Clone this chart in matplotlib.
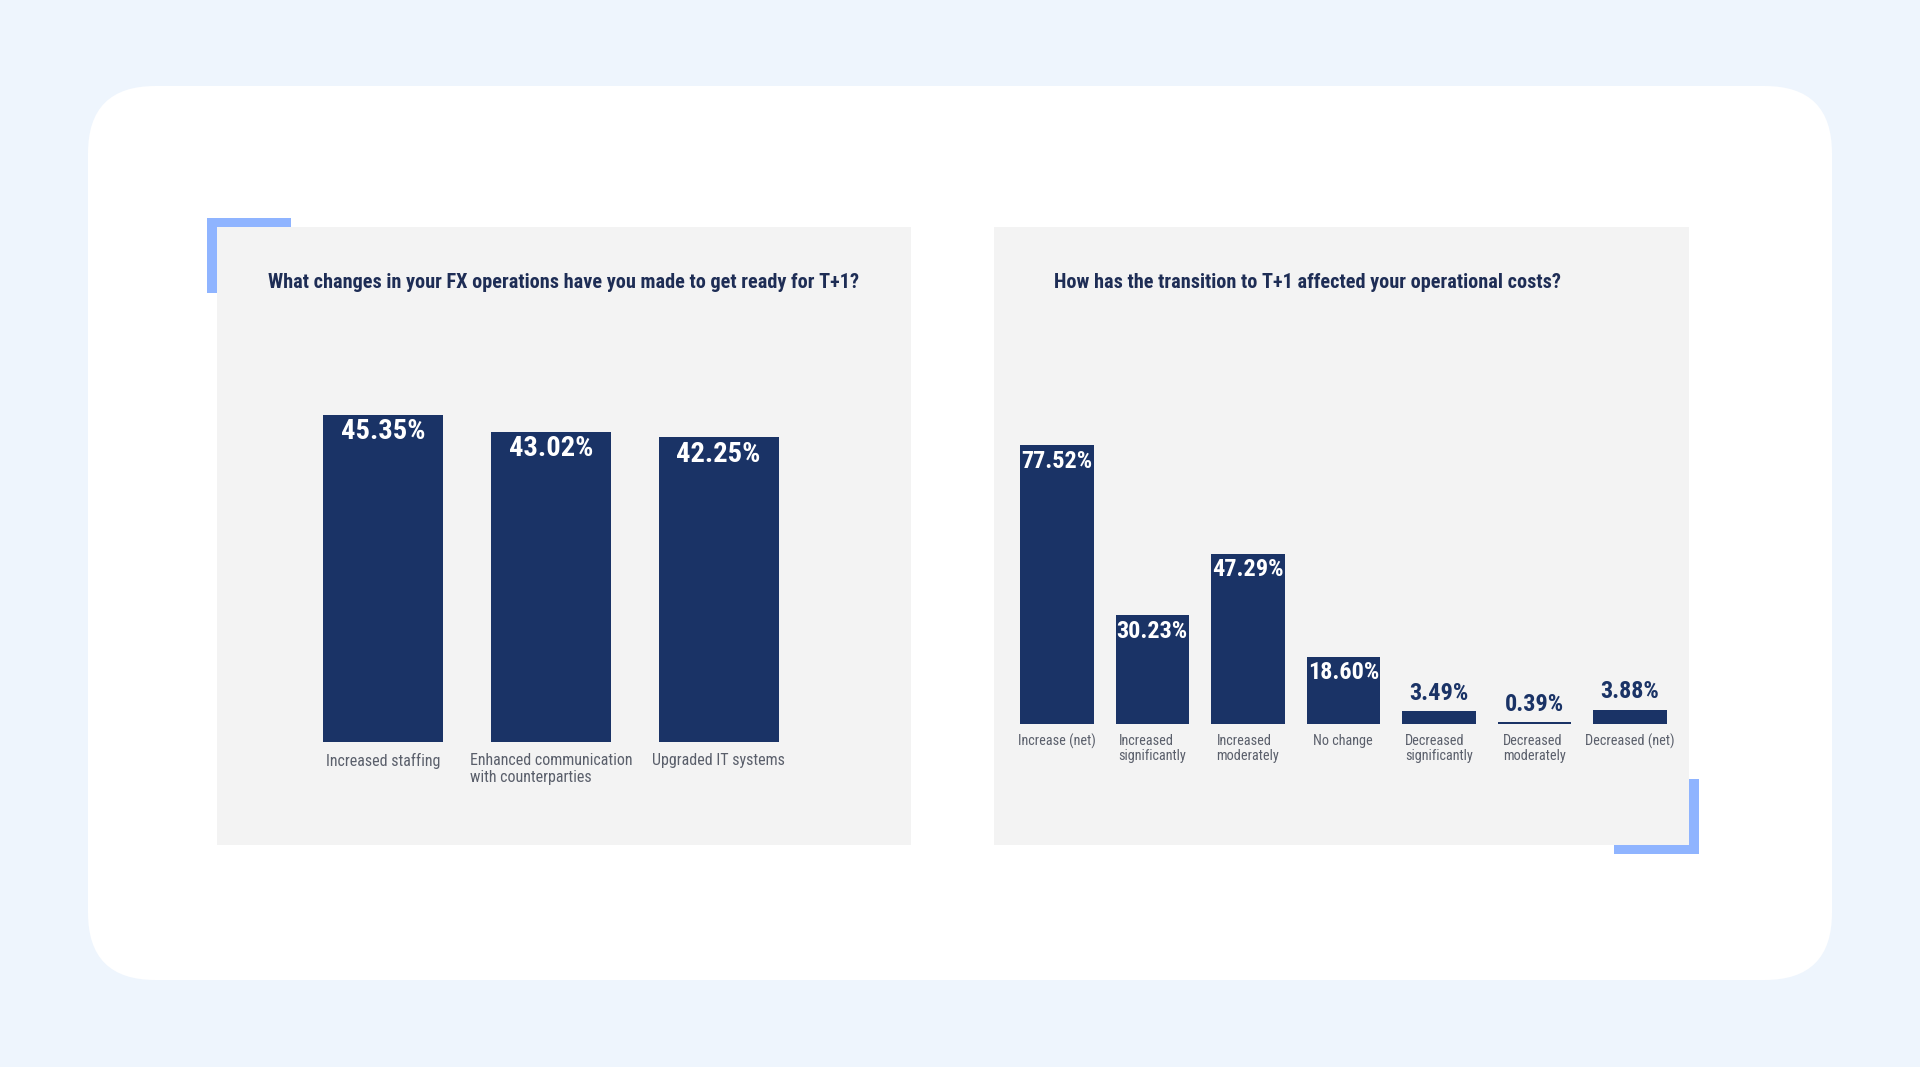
import matplotlib
matplotlib.use("Agg")
import matplotlib.pyplot as plt
from matplotlib.patches import FancyBboxPatch, Rectangle

plt.rcParams['font.family'] = ['Roboto Condensed', 'Liberation Sans Narrow', 'Roboto', 'DejaVu Sans']

# ---------------- data ----------------
left_title = "What changes in your FX operations have you made to get ready for T+1?"
left_categories = ["Increased staffing", "Enhanced communication\nwith counterparties", "Upgraded IT systems"]
left_values = [45.35, 43.02, 42.25]

right_title = "How has the transition to T+1 affected your operational costs?"
right_categories = ["Increase (net)", "Increased\nsignificantly", "Increased\nmoderately", "No change",
                    "Decreased\nsignificantly", "Decreased\nmoderately", "Decreased (net)"]
right_values = [77.52, 30.23, 47.29, 18.60, 3.49, 0.39, 3.88]

# ---------------- style ----------------
W, H = 1920, 1067
BG = "#EEF5FD"
CARD = "#FFFFFF"
PANEL = "#F3F3F3"
NAVY = "#1A3366"
TITLE_C = "#1E2D55"
LABEL_C = "#5A5F6B"
ACCENT = "#8FB4FF"

fig = plt.figure(figsize=(W / 100, H / 100), dpi=100)
fig.patch.set_facecolor(BG)


def fx(px):
    return px / W


def fy(py):
    return 1 - py / H


# white rounded card
card = FancyBboxPatch((fx(88), fy(980)), fx(1832) - fx(88), fy(86) - fy(980),
                      boxstyle="round,pad=0,rounding_size=0.035", transform=fig.transFigure,
                      facecolor=CARD, edgecolor="none", zorder=0,
                      mutation_aspect=W / H)
fig.patches.append(card)

# accent brackets
def frect(x0, y0, x1, y1, color):
    fig.patches.append(Rectangle((fx(x0), fy(y1)), fx(x1) - fx(x0), fy(y0) - fy(y1),
                                 transform=fig.transFigure, facecolor=color,
                                 edgecolor="none", zorder=1))

frect(207, 218, 291, 227, ACCENT)
frect(207, 218, 217, 293, ACCENT)
frect(1689, 779, 1699, 854, ACCENT)
frect(1614, 845, 1699, 854, ACCENT)


def make_axes(px0, py0, px1, py1):
    ax = fig.add_axes([fx(px0), fy(py1), fx(px1) - fx(px0), fy(py0) - fy(py1)])
    ax.set_facecolor(PANEL)
    for s in ax.spines.values():
        s.set_visible(False)
    ax.set_xticks([])
    ax.set_yticks([])
    ax.set_zorder(2)
    return ax


# ---------------- left chart ----------------
axL = make_axes(217, 227, 911, 845)
xL = list(range(len(left_values)))
axL.bar(xL, left_values, width=0.716, color=NAVY)
axL.set_xlim(-0.992, 3.147)
axL.set_ylim(-14.29, 71.4)
for x, v in zip(xL, left_values):
    axL.annotate(f"{v:.2f}%", (x, v), xytext=(0, -17), textcoords="offset pixels",
                 ha="center", va="center", color="white", fontsize=20.5, fontweight="bold")
for x, c in zip(xL, left_categories):
    axL.annotate(c, (x, 0), xytext=(0, -11), textcoords="offset pixels",
                 ha="center", va="top", color=LABEL_C, fontsize=11.5, linespacing=1.15,
                 multialignment="left")
fig.text(fx(268), fy(282), left_title, ha="left", va="center", color=TITLE_C,
         fontsize=14.6, fontweight="bold", zorder=3)

# ---------------- right chart ----------------
axR = make_axes(994, 227, 1689, 845)
xR = list(range(len(right_values)))
axR.bar(xR, right_values, width=0.77, color=NAVY)
axR.set_xlim(-0.658, 6.62)
axR.set_ylim(-33.8, 138.4)
for x, v in zip(xR, right_values):
    if v > 10:
        axR.annotate(f"{v:.2f}%", (x, v), xytext=(0, -16), textcoords="offset pixels",
                     ha="center", va="center", color="white", fontsize=17.5, fontweight="bold")
    else:
        axR.annotate(f"{v:.2f}%", (x, v), xytext=(0, 18), textcoords="offset pixels",
                     ha="center", va="center", color=NAVY, fontsize=17.5, fontweight="bold")
for x, c in zip(xR, right_categories):
    axR.annotate(c, (x, 0), xytext=(0, -10), textcoords="offset pixels",
                 ha="center", va="top", color=LABEL_C, fontsize=10.3, linespacing=1.15,
                 multialignment="left")
fig.text(fx(1054), fy(282), right_title, ha="left", va="center", color=TITLE_C,
         fontsize=14.6, fontweight="bold", zorder=3)

fig.savefig("out.png", dpi=100, facecolor=BG)
